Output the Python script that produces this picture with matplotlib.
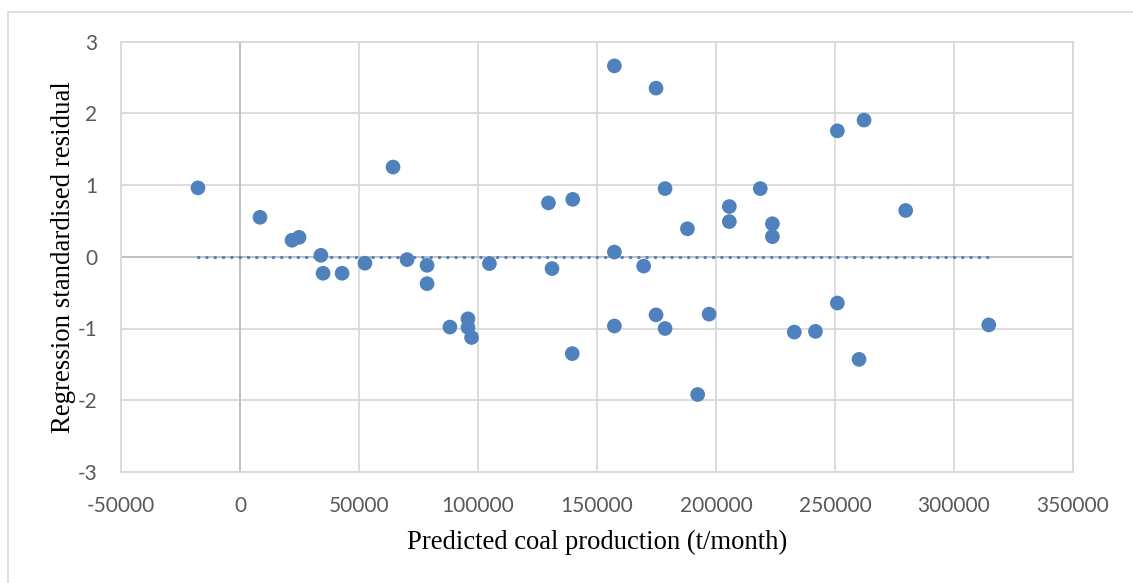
import matplotlib
matplotlib.use("Agg")
import matplotlib.pyplot as plt
from matplotlib.patches import Rectangle

# Data
predicted = [-17650, 8400, 21850, 24800, 34000, 34900, 42900, 52500, 64300, 70200,
             78600, 78600, 88200, 95800, 95800, 97300, 104800, 129600, 131100, 139800,
             139600, 157300, 157300, 157300, 174800, 174800, 178600, 178600, 169600, 188000,
             192300, 197100, 205600, 205600, 218600, 223700, 223700, 251000, 262200, 279700,
             251000, 232900, 241800, 260100, 314600]
residual = [0.96, 0.55, 0.23, 0.27, 0.02, -0.23, -0.23, -0.09, 1.25, -0.04,
            -0.12, -0.375, -0.98, -0.865, -0.985, -1.125, -0.095, 0.75, -0.165, 0.80,
            -1.35, 2.66, 0.065, -0.965, 2.35, -0.81, 0.95, -1.0, -0.13, 0.39,
            -1.92, -0.80, 0.70, 0.49, 0.95, 0.46, 0.28, 1.755, 1.905, 0.645,
            -0.645, -1.05, -1.04, -1.43, -0.95]
x_ticks = [-50000, 0, 50000, 100000, 150000, 200000, 250000, 300000, 350000]
y_ticks = [-3, -2, -1, 0, 1, 2, 3]

W, H = 1133, 583
fig = plt.figure(figsize=(W / 100, H / 100), dpi=100)
ax = fig.add_axes([121 / W, 1 - 472 / H, (1073 - 121) / W, (472 - 41.5) / H])

# outer chart frame
fig.patches.append(Rectangle((8 / W, -0.1), 1.2, 1 - 12 / H + 0.1, transform=fig.transFigure,
                             fill=False, edgecolor="#D9D9D9", linewidth=1.2))

ax.set_xlim(x_ticks[0], x_ticks[-1])
ax.set_ylim(y_ticks[0], y_ticks[-1])
ax.set_xticks(x_ticks)
ax.set_yticks(y_ticks)
ax.set_xticklabels([str(v) for v in x_ticks])
ax.set_yticklabels([str(v) for v in y_ticks])
ax.grid(True, color="#D9D9D9", linewidth=1.3, zorder=0)
ax.set_axisbelow(True)
for s in ax.spines.values():
    s.set_color("#D9D9D9")
    s.set_linewidth(1.3)
ax.axhline(0, color="#BFBFBF", linewidth=1.3, zorder=1)
ax.axvline(0, color="#BFBFBF", linewidth=1.3, zorder=1)
ax.tick_params(axis="x", length=0, labelsize=15, labelcolor="#595959", pad=17)
ax.tick_params(axis="y", length=0, labelsize=15, labelcolor="#595959", pad=17)
for lab in ax.get_xticklabels() + ax.get_yticklabels():
    lab.set_family("Lato")

# dotted zero reference line
ax.plot([min(predicted), max(predicted)], [0, 0], color="#4F81BD", linewidth=2.3,
        linestyle=(0, (0.1, 2.5)), dash_capstyle="round", zorder=2)

ax.scatter(predicted, residual, s=112, color="#4F81BD", edgecolors="none", zorder=3)

ax.set_xlabel("Predicted coal production (t/month)", family="Liberation Serif",
              fontsize=19.2, color="black", labelpad=10)
ax.set_ylabel("Regression standardised residual", family="Liberation Serif",
              fontsize=19.4, color="black", labelpad=1)

fig.savefig("out.png", dpi=100)
